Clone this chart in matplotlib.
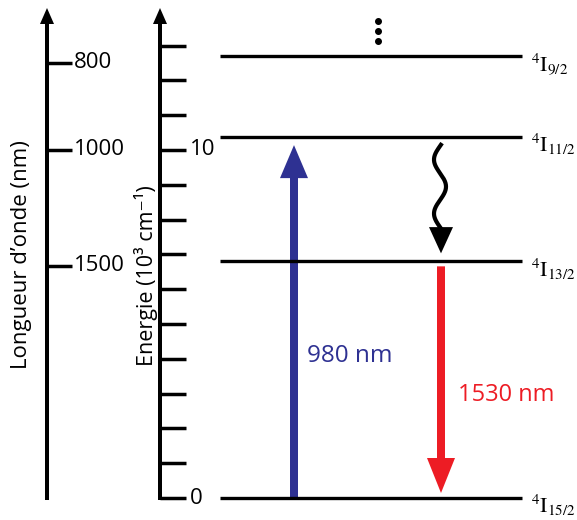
import numpy as np
import matplotlib.pyplot as plt
from matplotlib.patches import FancyArrow

plt.rcParams['font.family'] = ['Open Sans', 'DejaVu Sans']
plt.rcParams['mathtext.fontset'] = 'stix'

# Er3+ levels, energy in 10^3 cm^-1
level_names = [r'$^{4}\mathrm{I}_{15/2}$', r'$^{4}\mathrm{I}_{13/2}$',
               r'$^{4}\mathrm{I}_{11/2}$', r'$^{4}\mathrm{I}_{9/2}$']
level_energy = [0.0, 6.8, 10.37, 12.7]
energy_ticks = np.arange(0, 14)
energy_labels = {0: '0', 10: '10'}
wavelength_ticks = [800, 1000, 1500]   # nm
pump_label = '980 nm'
emission_label = '1530 nm'

blue = '#2e3192'
red = '#ed1c24'

fig = plt.figure(figsize=(5.77, 5.2), dpi=100)
ax = fig.add_axes([0, 0, 1, 1])
ax.set_xlim(0, 577)
ax.set_ylim(-0.632, 14.31)
ax.axis('off')
px = 520 / (14.31 + 0.632)   # pixels per 10^3 cm^-1
top = 14.31 - 8 / px

# wavelength axis
ax.add_patch(FancyArrow(47, -2 / px, 0, top + 2 / px, width=4, head_width=14,
                        head_length=16 / px, length_includes_head=True,
                        color='black', lw=0))
wl_pos = [1e4 / w for w in wavelength_ticks]
ax.hlines(wl_pos, 47, 72, color='black', lw=2.5)
for w, e in zip(wavelength_ticks, wl_pos):
    ax.text(74, e, str(w), fontsize=16, ha='left', va='center')
ax.text(22, 7.0, 'Longueur d\u2019onde (nm)', rotation=90, fontsize=16,
        ha='center', va='center')

# energy axis
ax.add_patch(FancyArrow(160, -2 / px, 0, top + 2 / px, width=4, head_width=14,
                        head_length=16 / px, length_includes_head=True,
                        color='black', lw=0))
ax.hlines(energy_ticks, 160, 186, color='black', lw=2.5)
for t, lab in energy_labels.items():
    ax.text(190, t, lab, fontsize=16, ha='left', va='center')
ax.text(146, 6.38, 'Energie (10\u00b3 cm\u207b\u00b9)', rotation=90, fontsize=15.5,
        ha='center', va='center')

# levels
ax.hlines(level_energy, 220, 522, color='black', lw=2.4)
for name, e in zip(level_names, level_energy):
    ax.annotate(name, (522, e), xytext=(6.5, -11), textcoords='offset points',
                fontsize=15.5, ha='left', va='baseline')

# dots above the top level
ax.plot([378] * 3, level_energy[-1] + np.array([0.43, 0.72, 1.01]), 'o',
        color='black', ms=4)

# pump arrow (ground -> 4I11/2)
ax.add_patch(FancyArrow(294, level_energy[0], 0,
                        level_energy[2] - 8 / px - level_energy[0],
                        width=8, head_width=28, head_length=33 / px,
                        length_includes_head=True, color=blue, lw=0))
ax.text(307, 4.08, pump_label, color=blue, fontsize=17.5, ha='left', va='center')

# emission arrow (4I13/2 -> ground)
ax.add_patch(FancyArrow(441, level_energy[1] - 5 / px, 0,
                        level_energy[0] + 5 / px - (level_energy[1] - 5 / px),
                        width=8, head_width=28, head_length=35 / px,
                        length_includes_head=True, color=red, lw=0))
ax.text(458, 2.96, emission_label, color=red, fontsize=17, ha='left', va='center')

# non-radiative relaxation (wavy arrow)
t = np.linspace(0, 86, 200)
wx = 440 - 6 * np.sin(2 * np.pi * (t - 3) / 54)
wy = level_energy[2] - 6 / px - t / px
ax.plot(wx, wy, color='black', lw=3, solid_capstyle='butt')
tip = level_energy[1] + 8 / px
ax.fill([429, 453, 441], [wy[-1] + 2 / px, wy[-1] + 2 / px, tip], color='black', lw=0)

fig.savefig('out.png', dpi=100)
